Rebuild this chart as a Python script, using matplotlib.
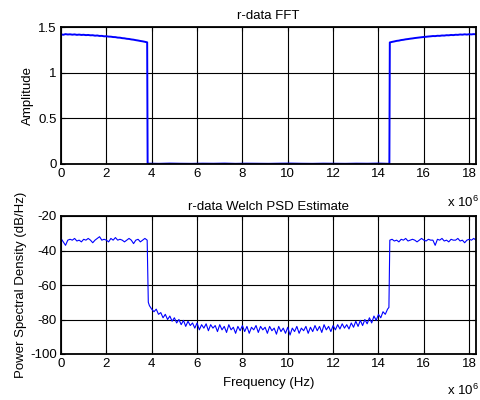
import numpy as np
import matplotlib
matplotlib.use("Agg")
import matplotlib.pyplot as plt

plt.rcParams['font.family'] = ['Liberation Sans', 'DejaVu Sans']
plt.rcParams['font.size'] = 9.5
plt.rcParams['axes.unicode_minus'] = False
plt.rcParams['mathtext.fontset'] = 'custom'
plt.rcParams['mathtext.rm'] = 'Liberation Sans'

# ---------- data (frequency in MHz, scaled by 1e6 when plotted) ----------
fft_low_amp = [1.420, 1.415, 1.422, 1.418, 1.420, 1.416, 1.419, 1.414, 1.417, 1.413,
               1.415, 1.411, 1.413, 1.409, 1.410, 1.405, 1.407, 1.402, 1.403, 1.398,
               1.399, 1.395, 1.394, 1.390, 1.389, 1.384, 1.383, 1.378, 1.376, 1.371,
               1.369, 1.364, 1.361, 1.356, 1.352, 1.347, 1.343, 1.338, 1.332]
fft_mid_amp = [0.004, 0.002, 0.005, 0.003, 0.002, 0.004, 0.003, 0.005, 0.002, 0.004,
               0.003, 0.002, 0.004, 0.005, 0.003, 0.002, 0.004, 0.003, 0.002, 0.004,
               0.003, 0.005, 0.002]
fft_high_amp = [1.331, 1.337, 1.342, 1.348, 1.351, 1.357, 1.360, 1.365, 1.368, 1.372,
                1.375, 1.379, 1.382, 1.385, 1.388, 1.391, 1.393, 1.396, 1.398, 1.401,
                1.400, 1.404, 1.403, 1.407, 1.406, 1.410, 1.409, 1.413, 1.411, 1.415,
                1.414, 1.418, 1.416, 1.420, 1.417, 1.421, 1.419, 1.422, 1.420]

psd_low_db = [-33, -35, -37, -34, -33.5, -34, -33, -34.5, -34, -35, -33.5, -34, -33,
              -34, -35.5, -34, -33, -32, -34, -33.5, -34, -35, -33, -34, -32.5, -34,
              -33.5, -34, -35, -34, -33, -34, -36, -34, -33.5, -35, -34, -33, -34]
psd_mid_db = [-72, -74, -75.5, -74, -77, -76, -79, -77, -80, -78, -81, -79, -82, -80,
              -83, -80.5, -84, -81, -83.5, -82, -85, -82, -86, -83, -85, -82.5, -86.5,
              -83, -85, -83.5, -87, -83, -86, -84, -87.5, -83, -86, -84.5, -88, -84,
              -86.5, -83.5, -87, -84, -88, -84.5, -86, -83.5, -87.5, -84, -86, -84.5,
              -88, -84, -86.5, -85, -88.5, -84, -87, -85, -88, -84.5, -89, -85, -87,
              -84, -88, -85, -86.5, -84, -88, -84.5, -87, -83.5, -86.5, -84, -87.5,
              -83, -86, -84, -87, -83.5, -86, -83, -85.5, -82.5, -85, -83, -85.5, -82,
              -84.5, -81, -84, -80.5, -83.5, -80, -82.5, -79, -82, -78, -80.5, -77,
              -79, -75.5, -77, -74]
psd_high_db = [-34, -33.5, -34.5, -34, -35, -33.5, -34, -33, -34.5, -34, -33.5, -34,
               -35, -34, -33, -34, -34.5, -33.5, -34, -34, -37, -33.5, -34, -33, -34.5,
               -34, -35, -33.5, -34, -34, -33, -34.5, -34, -35.5, -34, -33.5, -34, -33,
               -34]

# sample positions (MHz)
f_low = np.round(np.arange(0, 3.85, 0.1), 2)            # 0 .. 3.8
f_mid_fft = np.round(np.linspace(3.82, 14.48, len(fft_mid_amp)), 3)
f_mid_psd = np.round(np.arange(3.9, 14.45, 0.1), 2)     # 3.9 .. 14.4
f_high = np.round(np.arange(14.5, 18.35, 0.1), 2)       # 14.5 .. 18.3

fft_f = np.concatenate([f_low, f_mid_fft, f_high]) * 1e6
fft_a = np.array(fft_low_amp + fft_mid_amp + fft_high_amp)
psd_f = np.concatenate([f_low, [3.85], f_mid_psd, [14.46], f_high]) * 1e6
psd_d = np.array(psd_low_db + [-70] + psd_mid_db + [-73] + psd_high_db)

xticks = np.arange(0, 19, 2)
xtick_labels = [str(v) for v in xticks]

# ---------- figure ----------
fig = plt.figure(figsize=(4.81, 4.00), dpi=100)
ax1 = fig.add_axes([0.1268, 0.59, 0.8628, 0.3425])
ax2 = fig.add_axes([0.1268, 0.115, 0.8628, 0.345])

blue = '#0000ff'
ax1.plot(fft_f, fft_a, color=blue, lw=1.4)
ax2.plot(psd_f, psd_d, color=blue, lw=0.8)

fs = 9.5
for ax in (ax1, ax2):
    ax.set_xlim(0, 18.3e6)
    ax.set_xticks(xticks * 1e6)
    ax.set_xticklabels(xtick_labels)
    ax.grid(True, color='black', lw=0.8, ls='-')
    ax.set_axisbelow(True)
    ax.tick_params(direction='in', length=3, width=0.8, colors='black',
                   labelsize=fs, top=True, right=True, pad=3)
    for s in ax.spines.values():
        s.set_linewidth(1.3)

ax1.set_ylim(0, 1.5)
ax1.set_yticks([0, 0.5, 1, 1.5])
ax1.set_yticklabels(['0', '0.5', '1', '1.5'])
ax1.set_ylabel('Amplitude', fontsize=fs)
ax1.yaxis.set_label_coords(-0.065, 0.5)
ax1.set_title('r-data FFT', fontsize=fs, pad=6)

ax2.set_ylim(-100, -20)
ax2.set_yticks([-100, -80, -60, -40, -20])
ax2.set_ylabel('Power Spectral Density (dB/Hz)', fontsize=fs)
ax2.yaxis.set_label_coords(-0.082, 0.5)
ax2.set_xlabel('Frequency (Hz)', fontsize=fs)
ax2.xaxis.set_label_coords(0.5, -0.165)
ax2.set_title('r-data Welch PSD Estimate', fontsize=fs, pad=4)

fig.text(0.929, 0.483, r'x 10$^{6}$', fontsize=fs, ha='left', va='baseline')
fig.text(0.929, 0.0125, r'x 10$^{6}$', fontsize=fs, ha='left', va='baseline')

fig.savefig('out.png', dpi=100)
